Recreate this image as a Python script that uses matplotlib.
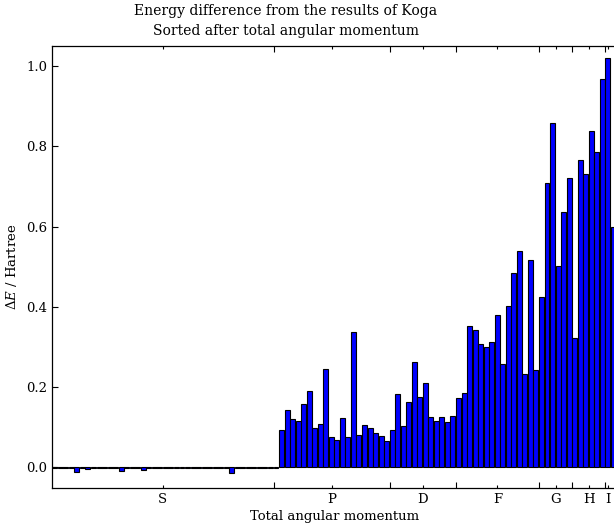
import matplotlib
matplotlib.use("Agg")
import matplotlib.pyplot as plt
import numpy as np
from matplotlib.ticker import FixedLocator, NullFormatter, FixedFormatter

plt.rcParams["font.family"] = ["DejaVu Serif"]
plt.rcParams["mathtext.fontset"] = "dejavuserif"

# Angular momentum groups and number of states in each
groups = ["S", "P", "D", "F", "G", "H", "I"]
group_sizes = [41, 21, 12, 15, 6, 6, 1]

# Energy differences (Hartree), ordered by total angular momentum
s_values = [-0.001, -0.001, -0.001, -0.002, -0.011, -0.001, -0.004, -0.003,
            -0.001, -0.001, -0.001, -0.001, -0.009, -0.001, -0.001, -0.001,
            -0.008, -0.001, -0.001, -0.001, -0.001, -0.001, -0.001, -0.001,
            -0.001, -0.001, -0.001, -0.001, -0.001, -0.001, -0.001, -0.001,
            -0.014, -0.001, -0.001, -0.001, -0.001, -0.002, -0.002, -0.002,
            -0.001]
p_values = [0.093, 0.143, 0.120, 0.114, 0.157, 0.191, 0.097, 0.107, 0.245,
            0.075, 0.068, 0.123, 0.075, 0.338, 0.081, 0.104, 0.097, 0.085,
            0.077, 0.065, 0.093]
d_values = [0.182, 0.103, 0.162, 0.261, 0.176, 0.210, 0.126, 0.115, 0.124,
            0.113, 0.128, 0.172]
f_values = [0.185, 0.351, 0.342, 0.307, 0.299, 0.312, 0.379, 0.258, 0.402,
            0.483, 0.540, 0.233, 0.516, 0.243, 0.424]
g_values = [0.709, 0.858, 0.502, 0.637, 0.722, 0.322]
h_values = [0.766, 0.731, 0.839, 0.787, 0.968, 1.020]
i_values = [0.598]

delta_e = np.array(s_values + p_values + d_values + f_values
                   + g_values + h_values + i_values)
n = len(delta_e)
positions = np.arange(n)

# Group separators sit on the last state of each group
starts = np.cumsum([0] + group_sizes[:-1])
boundaries = [int(s) - 1 for s in starts[1:]]
edges = [0] + boundaries + [n - 1]
centers = [(edges[k] + edges[k + 1]) / 2 for k in range(len(groups))]

fig = plt.figure(figsize=(6.14, 5.32), dpi=100)
ax = fig.add_axes([0.0852, 0.0827, 0.9187, 0.8308])

ax.bar(positions, delta_e, width=0.9, align="edge", color="#0000ff",
       edgecolor="black", linewidth=0.8)

ax.set_xlim(0, n)
ax.set_ylim(-0.052, 1.05)

ax.xaxis.set_major_locator(FixedLocator(boundaries))
ax.xaxis.set_major_formatter(NullFormatter())
ax.xaxis.set_minor_locator(FixedLocator(centers))
ax.xaxis.set_minor_formatter(FixedFormatter(groups))
ax.set_yticks(np.arange(0, 1.01, 0.2))
ax.set_yticklabels([f"{v:.1f}" for v in np.arange(0, 1.01, 0.2)])

ax.tick_params(axis="both", which="major", direction="in", top=True,
               right=False, length=4, width=0.8, labelsize=9.5)
ax.tick_params(axis="x", which="minor", direction="in", top=True,
               length=2, width=0.8, labelsize=9.5)
for s in ax.spines.values():
    s.set_linewidth(0.9)

ax.set_xlabel("Total angular momentum", fontsize=9.5, labelpad=3)
ax.set_ylabel(r"$\Delta E$ / Hartree", fontsize=9.5, labelpad=5)

fig.text(286 / 614, 1 - 11 / 532, "Energy difference from the results of Koga",
         ha="center", va="center", fontsize=10)
fig.text(286 / 614, 1 - 31 / 532, "Sorted after total angular momentum",
         ha="center", va="center", fontsize=10)

fig.savefig("out.png", dpi=100)
